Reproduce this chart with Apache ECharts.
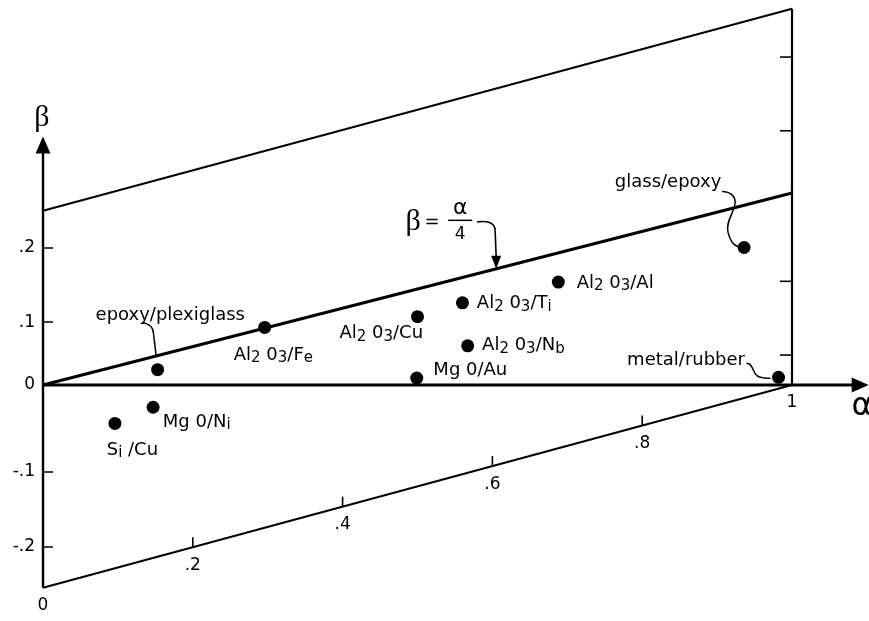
<!DOCTYPE html>
<html><head><meta charset="utf-8">
<script src="https://cdn.jsdelivr.net/npm/echarts@6/dist/echarts.min.js"></script>
<style>html,body{margin:0;padding:0;background:#fff}#c{width:869px;height:621px}</style>
</head><body><div id="c"></div>
<script>
// ---- data (alpha, beta) ----
const upperAlpha = [0, 1],      upperBeta = [0.227, 0.490];
const lowerAlpha = [0, 1],      lowerBeta = [-0.264, 0];
const ratioAlpha = [0, 1],      ratioBeta = [0, 0.25];          // beta = alpha/4
const edgeAlpha  = [1, 1],      edgeBeta  = [0, 0.490];
const alphaAxisAlpha = [0, 1.091], alphaAxisBeta = [0, 0];
const betaAxisAlpha  = [0, 0],     betaAxisBeta  = [-0.264, 0.3125];

const pairNames = ['epoxy/plexiglass','Al2O3/Fe','Al2O3/Cu','Al2O3/Ti','Al2O3/Al','Al2O3/Nb','Mg0/Au','Mg0/Ni','Si/Cu','glass/epoxy','metal/rubber'];
const pairAlpha = [0.153, 0.296, 0.500, 0.560, 0.688, 0.567, 0.499, 0.147, 0.096, 0.936, 0.982];
const pairBeta  = [0.020, 0.075, 0.089, 0.107, 0.134, 0.051, 0.009, -0.029, -0.050, 0.179, 0.010];
const pairLabels = ['epoxy/plexiglass','Al{s|2} 0{s|3}/F{s|e}','Al{s|2} 0{s|3}/Cu','Al{s|2} 0{s|3}/T{s|i}','Al{s|2} 0{s|3}/Al','Al{s|2} 0{s|3}/N{s|b}','Mg 0/Au','Mg 0/N{s|i}','S{s|i} /Cu','glass/epoxy','metal/rubber'];

const leftTickValues = [0.2, 0.1, -0.1, -0.2];
const leftTickText   = ['.2', '.1', '-.1', '-.2'];
const alphaTickValues = [0.2, 0.4, 0.6, 0.8];
const alphaLabelValues = [0, 0.2, 0.4, 0.6, 0.8, 1];
const alphaLabelText   = ['0', '.2', '.4', '.6', '.8', '1'];
const rightTickBeta = [0.039, 0.135, 0.331, 0.427];
const formulaAlpha = 0.605;

// ---- layout / style ----
const INK = '#000';
const FONT = 'DejaVu Sans';
const labelLayout = {
  'epoxy/plexiglass': {align:'center', dx: 12.7, dy: -54.3},
  'Al2O3/Fe': {align:'center', dx: 8.7, dy: 27.7},
  'Al2O3/Cu': {align:'right', dx: 5.6, dy: 16.6},
  'Al2O3/Ti': {align:'left', dx: 14.4, dy: 0.6},
  'Al2O3/Al': {align:'left', dx: 18.4, dy: 1},
  'Al2O3/Nb': {align:'left', dx: 14.4, dy: -0.7},
  'Mg0/Au': {align:'left', dx: 16.6, dy: -7.3},
  'Mg0/Ni': {align:'left', dx: 9.7, dy: 14.7},
  'Si/Cu': {align:'center', dx: 17.5, dy: 26.7},
  'glass/epoxy': {align:'right', dx: -22.7, dy: -65.5},
  'metal/rubber': {align:'right', dx: -33.5, dy: -17}
};
function interp(xs, ys, x) { return ys[0] + (ys[1]-ys[0]) * (x - xs[0]) / (xs[1]-xs[0]); }
function seg(name, xs, ys, width) {
  return {type:'line', name, data: xs.map((x,i)=>[x, ys[i]]), symbol:'none', silent:true, clip:false,
          lineStyle:{color:INK, width, opacity:1}, z:2};
}
const subRich = {s:{fontSize:15, fontFamily:FONT, color:INK, verticalAlign:'bottom', lineHeight:10}};

const chart = echarts.init(document.getElementById('c'), null, {renderer:'canvas'});
const option = {
  animation: false,
  backgroundColor: '#fff',
  grid: {left: 43, right: 0, top: 0, bottom: 0, containLabel: false, outerBoundsMode: 'none'},
  xAxis: {type:'value', min: 0, max: 826/749, show: false},
  yAxis: [
    {type:'value', position:'left', min: -236/768, max: 385/768,
     axisLine:{show:false}, axisTick:{show:false}, splitLine:{show:false},
     axisLabel:{customValues:[0], formatter: () => '0', margin: 8, color: INK, fontSize: 17, fontFamily: FONT}},
    {type:'value', position:'left', min: -224/748, max: 397/748,
     axisLine:{show:false}, splitLine:{show:false},
     axisTick:{show:true, inside:true, length:10, customValues: leftTickValues, lineStyle:{color:INK, width:1.5}},
     axisLabel:{customValues: leftTickValues, margin: 8, color: INK, fontSize: 17, fontFamily: FONT,
       formatter: v => { const i = leftTickValues.findIndex(t => Math.abs(t - v) < 1e-6); return i >= 0 ? leftTickText[i] : ''; }}}
  ],
  series: [
    seg('upper', upperAlpha, upperBeta, 2),
    seg('lower', lowerAlpha, lowerBeta, 2),
    seg('beta=alpha/4', ratioAlpha, ratioBeta, 3),
    seg('right edge', edgeAlpha, edgeBeta, 2.2),
    seg('alpha axis', alphaAxisAlpha, alphaAxisBeta, 3),
    seg('beta axis', betaAxisAlpha, betaAxisBeta, 2.4),
    {type:'scatter', name:'arrows', silent:true, symbol:'triangle', symbolSize:[15,17], itemStyle:{color:INK, opacity:1}, z:3,
     data:[{value:[betaAxisAlpha[1], betaAxisBeta[1]], symbolRotate:0},
           {value:[alphaAxisAlpha[1], alphaAxisBeta[1]], symbolRotate:-90}]},
    {type:'scatter', name:'alpha ticks', silent:true, symbol:'rect', symbolSize:[1.6,10], symbolOffset:[0,-5],
     itemStyle:{color:INK, opacity:1}, z:3,
     data: alphaTickValues.map(a => [a, interp(lowerAlpha, lowerBeta, a)])},
    {type:'scatter', name:'alpha tick labels', silent:true, symbol:'circle', symbolSize:1,
     itemStyle:{color:'rgba(0,0,0,0)', opacity:1}, z:3,
     label:{show:true, position:'inside', offset:[0,18], color:INK, opacity:1, fontSize:17, fontFamily:FONT,
            formatter: p => alphaLabelText[p.dataIndex]},
     data: alphaLabelValues.map(a => [a, interp(lowerAlpha, lowerBeta, a)])},
    {type:'scatter', name:'right ticks', silent:true, symbol:'rect', symbolSize:[12,1.6], symbolOffset:[-6,0],
     itemStyle:{color:INK, opacity:1}, z:3,
     data: rightTickBeta.map(b => [edgeAlpha[0], b])},
    {type:'scatter', name:'pairs', silent:true, symbol:'circle', symbolSize:13, itemStyle:{color:INK, opacity:1}, z:5,
     data: pairNames.map((n,i) => {
       const L = labelLayout[n];
       return {name:n, value:[pairAlpha[i], pairBeta[i]],
         label:{show:true, position:'inside', align:L.align, verticalAlign:'middle', offset:[L.dx, L.dy],
                formatter: pairLabels[i], color:INK, fontSize:18, fontFamily:FONT, lineHeight:22, rich: subRich}};
     })}
  ]
};
chart.setOption(option);

// ---- annotations (leaders, formula, axis symbols) anchored through the scales ----
function P(a, b) { return chart.convertToPixel({xAxisIndex:0, yAxisIndex:0}, [a, b]); }
function curve(o, p0, c1, c2, p1, w) {
  return {type:'bezierCurve', x:o[0], y:o[1], silent:true,
    shape:{x1:p0[0], y1:p0[1], cpx1:c1[0], cpy1:c1[1], cpx2:c2[0], cpy2:c2[1], x2:p1[0], y2:p1[1]},
    style:{stroke:INK, lineWidth:w || 1.5, fill:null}};
}
function line(o, p0, p1, w) {
  return {type:'line', x:o[0], y:o[1], silent:true, shape:{x1:p0[0], y1:p0[1], x2:p1[0], y2:p1[1]},
    style:{stroke:INK, lineWidth:w || 1.5}};
}
function text(o, d, s, font) {
  return {type:'text', x:o[0]+d[0], y:o[1]+d[1], silent:true,
    style:{text:s, font:font, fill:INK, textAlign:'center', textVerticalAlign:'middle', align:'center', verticalAlign:'middle'}};
}
const iE = pairNames.indexOf('epoxy/plexiglass');
const epoxyAnchor = P(pairAlpha[iE], interp(ratioAlpha, ratioBeta, pairAlpha[iE]));
const glassDot = P(pairAlpha[pairNames.indexOf('glass/epoxy')], pairBeta[pairNames.indexOf('glass/epoxy')]);
const metalDot = P(pairAlpha[pairNames.indexOf('metal/rubber')], pairBeta[pairNames.indexOf('metal/rubber')]);
const tip = P(formulaAlpha, interp(ratioAlpha, ratioBeta, formulaAlpha));
const betaTip = P(betaAxisAlpha[1], betaAxisBeta[1]);
const alphaTip = P(alphaAxisAlpha[1], alphaAxisBeta[1]);

const g = [
  curve(epoxyAnchor, [-15.6,-33], [-8,-32], [-4,-28], [-4,-21]),
  line(epoxyAnchor, [-4,-21], [-1.5,0]),
  curve(glassDot, [-22,-56], [-14,-56], [-8,-51], [-9,-44]),
  curve(glassDot, [-9,-44], [-10,-35], [-19,-25], [-16,-15]),
  curve(glassDot, [-16,-15], [-14,-7], [-10,-2], [-6,-1]),
  curve(metalDot, [-32,-14], [-26,-14], [-26,-6], [-22,-2]),
  curve(metalDot, [-22,-2], [-18,1], [-13,1], [-8,1]),
  curve(tip, [-19,-47], [-10,-48], [-1,-47], [-1,-38], 1.6),
  line(tip, [-1,-38], [0,-12], 1.6),
  {type:'polygon', x:tip[0], y:tip[1], silent:true, shape:{points:[[-5,-13],[5,-13],[0,0]]}, style:{fill:INK}},
  text(tip, [-83,-47], 'β', '30px Liberation Serif'),
  text(tip, [-64,-47], '=', '18px ' + FONT),
  text(tip, [-36,-61], 'α', '22px ' + FONT),
  line(tip, [-48,-48.5], [-24,-48.5], 1.5),
  text(tip, [-36,-34], '4', '17px ' + FONT),
  text(betaTip, [-1,-27], 'β', '30px Liberation Serif'),
  text(alphaTip, [2,22], 'α', '32px ' + FONT)
];
chart.setOption({graphic: g});
</script></body></html>
